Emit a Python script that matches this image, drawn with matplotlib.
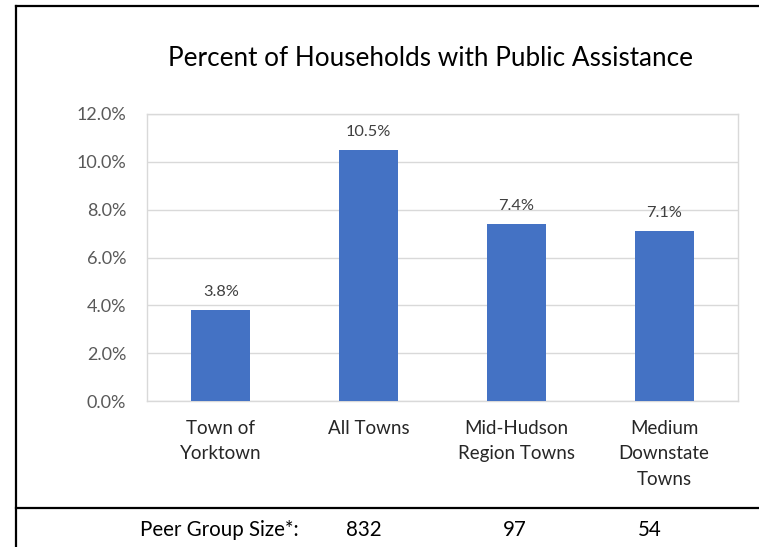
import matplotlib.pyplot as plt
from matplotlib.lines import Line2D
import numpy as np

plt.rcParams['font.family'] = ['Lato', 'DejaVu Sans']

# data
categories = ["Town of\nYorktown", "All Towns", "Mid-Hudson\nRegion Towns", "Medium\nDownstate\nTowns"]
values = [3.8, 10.5, 7.4, 7.1]
peer_sizes = ["832", "97", "54"]
yticks = [0, 2, 4, 6, 8, 10, 12]

W, H = 759, 547
fig = plt.figure(figsize=(W / 100, H / 100), dpi=100)

ax = fig.add_axes([147 / W, 1 - 401 / H, (738 - 147) / W, (401 - 114) / H])
x = np.arange(len(categories))
bars = ax.bar(x, values, width=0.4, color='#4472C4', zorder=3)

ax.set_xlim(-0.5, len(categories) - 0.5)
ax.set_ylim(0, 12)
ax.set_yticks(yticks)
ax.set_yticklabels([f"{v:.1f}%" for v in yticks], fontsize=13, color='#595959')
ax.set_xticks(x)
ax.set_xticklabels(categories, fontsize=13.5, color='#262626', linespacing=1.6)
ax.tick_params(axis='both', length=0)
ax.tick_params(axis='y', pad=15)
ax.tick_params(axis='x', pad=13.5)
ax.grid(axis='y', color='#D9D9D9', lw=1, zorder=0)
for s in ax.spines.values():
    s.set_color('#D9D9D9')
    s.set_linewidth(1)

for b, v in zip(bars, values):
    ax.annotate(f"{v:.1f}%", (b.get_x() + b.get_width() / 2, v), xytext=(0, 8),
                textcoords='offset points', ha='center', va='bottom',
                fontsize=11.8, color='#404040')

fig.text(431 / W, 1 - 59 / H, "Percent of Households with Public Assistance",
         ha='center', va='center', fontsize=18.8, color='black')

# outer frame lines
fig.add_artist(Line2D([16 / W, 1], [1 - 6 / H, 1 - 6 / H], color='black', lw=1.6))
fig.add_artist(Line2D([16 / W, 16 / W], [0, 1 - 6 / H], color='black', lw=1.6))
fig.add_artist(Line2D([16 / W, 1], [1 - 508 / H, 1 - 508 / H], color='black', lw=1.6))

# peer group row
fig.text(219 / W, 1 - 530 / H, "Peer Group Size*:", ha='center', va='center', fontsize=14.8)
for xc, s in zip([364, 515, 650], peer_sizes):
    fig.text(xc / W, 1 - 530 / H, s, ha='center', va='center', fontsize=14.8)

fig.savefig("out.png", dpi=100)
